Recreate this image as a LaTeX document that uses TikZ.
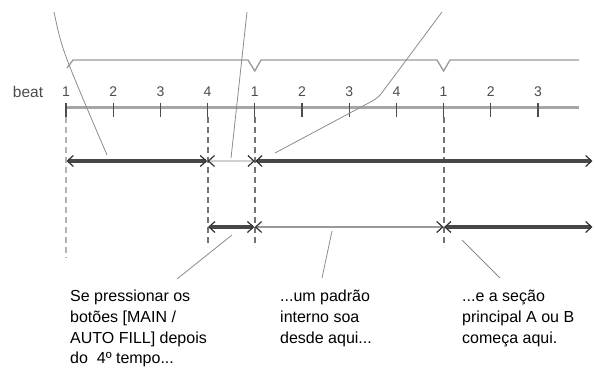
\documentclass[tikz,border=0pt]{standalone}
\usepackage{fontspec}
\setmainfont{Liberation Sans}
\usetikzlibrary{arrows.meta}

\tikzset{
	chev/.tip={Straight Barb[length=6pt,width=11pt,line width=1.2pt,color=black!80]},
	beatnum/.style={font=\fontsize{14}{15}\selectfont, text=black!70, inner sep=0pt},
	note/.style={align=left, font=\fontsize{16}{20.7}\selectfont, inner sep=0pt, anchor=north west},
	tickmark/.style={line width=1.3pt, black!70},
	guide/.style={line width=1.8pt, dash pattern=on 6pt off 4pt, black!55},
	leader/.style={line width=0.8pt, black!45},
	darkseg/.style={chev-chev, line width=3.2pt, black!72, shorten <=0.5pt, shorten >=0.5pt},
	lightseg/.style={chev-chev, line width=2pt, black!18}
}

\begin{document}
\begin{tikzpicture}[x=1pt, y=-1pt]
	\useasboundingbox (0,0) rectangle (595,369);
	\draw[line width=1.3pt, black!40] (67,68) -- (73,60) -- (248,60) -- (254.8,71) -- (261,60) -- (437,60) -- (443.6,71) -- (450,60) -- (579,60);
	\node[beatnum, font=\fontsize{15.5}{16}\selectfont] (beatlbl) at (28,92) {beat};
	\draw[line width=3pt, black!35] (66,108) -- (579,108);
	\foreach \k/\lab in {0/1,1/2,2/3,3/4,4/1,5/2,6/3,7/4,8/1,9/2,10/3} {
		\pgfmathsetmacro{\x}{66+\k*47.2}
		\coordinate (t\k) at (\x,108);
		\node[beatnum] (n\k) at (\x,92) {\lab};
		\draw[tickmark] (\x,103) -- (\x,117);
	}
	\draw[guide, black!30] (t0) ++(0,9) -- ++(0,141);
	\foreach \k in {3,4,8}
		\draw[guide] (t\k) ++(0,9) -- ++(0,130);
	\coordinate (rowA) at (0,161);
	\coordinate (rowB) at (0,227);
	\coordinate (endA) at (593,161);
	\coordinate (endB) at (593,227);
	\draw[darkseg] (t0 |- rowA) -- (t3 |- rowA);
	\draw[lightseg] (t3 |- rowA) -- (t4 |- rowA);
	\draw[darkseg] (t4 |- rowA) -- (endA);
	\draw[darkseg] (t3 |- rowB) -- (t4 |- rowB);
	\draw[lightseg, line width=1.4pt, black!40] (t4 |- rowB) -- (t8 |- rowB);
	\draw[darkseg] (t8 |- rowB) -- (endB);
	\coordinate (topA) at (54,12);
	\coordinate (topB) at (247,12);
	\coordinate (topC) at (442,12);
	\coordinate (footA) at (107,155);
	\coordinate (footB) at (231,158);
	\coordinate (footC) at (275,153);
	\draw[leader] (topA) .. controls (62,50) .. (footA);
	\draw[leader] (topB) -- (footB);
	\draw[leader, rounded corners=6pt] (topC) -- (378,98) -- (footC);
	\node[note] (txtA) at (70,290) {Se pressionar os\\botões [MAIN /\\AUTO FILL] depois\\do\ \ 4º tempo...};
	\node[note] (txtB) at (280,290) {...um padrão\\interno soa\\desde aqui...};
	\node[note] (txtC) at (462,290) {...e a seção\\principal A ou B\\começa aqui.};
	\coordinate (upA) at (232,235);
	\coordinate (upB) at (332,231);
	\coordinate (upC) at (462,240);
	\coordinate (lowA) at (177,279);
	\coordinate (lowB) at (322,278);
	\coordinate (lowC) at (500,278);
	\draw[leader] (upA) -- (lowA);
	\draw[leader] (upB) -- (lowB);
	\draw[leader] (upC) -- (lowC);
\end{tikzpicture}
\end{document}
